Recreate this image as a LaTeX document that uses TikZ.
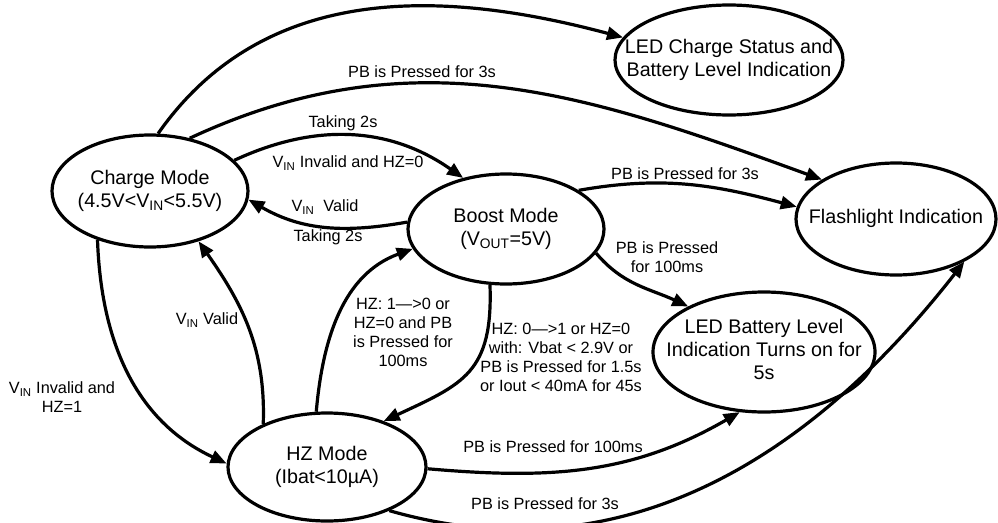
\documentclass[tikz,border=0pt]{standalone}
\usepackage{fontspec}
\setmainfont{Liberation Sans}
\usepackage{tikz}
\usetikzlibrary{arrows.meta}
\usetikzlibrary{shapes,calc}

\newcommand{\mtext}[1]{\makebox[0pt]{\begin{tabular}{@{}c@{}}#1\end{tabular}}}

\begin{document}
\begin{tikzpicture}[x=1pt,y=1pt,line width=3.2pt,
  >={Triangle[length=16pt,width=13pt]},
  modenode/.style={ellipse,draw,inner sep=0pt,font=\fontsize{19.7}{23}\selectfont},
  lbl/.style={align=center,inner sep=0pt,font=\fontsize{16.3}{19}\selectfont}]

\useasboundingbox (0,0) rectangle (998,-522);

\node[modenode,minimum width=196pt,minimum height=112pt] (charge) at (150,-191)
  {\mtext{Charge Mode\\(4.5V<V\textsubscript{IN}<5.5V)}};
\node[modenode,minimum width=196pt,minimum height=110pt] (boost) at (506,-229)
  {\mtext{Boost Mode\\(V\textsubscript{OUT}=5V)}};
\node[modenode,minimum width=198pt,minimum height=108pt] (hz) at (327,-467)
  {\mtext{HZ Mode\\(Ibat<10µA)}};
\node[modenode,minimum width=228pt,minimum height=110pt] (ledcharge) at (729,-60)
  {\mtext{LED Charge Status and\\Battery Level Indication}};
\node[modenode,minimum width=200pt,minimum height=112pt] (flash) at (896,-219)
  {\mtext{Flashlight Indication}};
\node[modenode,minimum width=222pt,minimum height=120pt] (ledbat) at (764,-352)
  {\mtext{LED Battery Level\\Indication Turns on for\\5s}};

\draw[->] (charge.82) to[out=55,in=165] (ledcharge.168);
\draw[->] (charge.53) to[out=25,in=160] (flash.152);
\draw[->] (charge.20) to[out=25,in=145] (boost.130);
\draw[->] (boost.176) to[out=190,in=-30] (charge.-5);
\draw[->] (boost.28) to[out=10,in=165] (flash.173);
\draw[->] (boost.-15) to[out=-50,in=155] (ledbat.149);
\draw[->] (boost.-106) to[out=-88,in=25,looseness=1.3] (hz.39);
\draw[->] (hz.101) to[out=85,in=200] (boost.-168);
\draw[->] (hz.146) to[out=88,in=-55] (charge.-46);
\draw[->] (charge.-137) to[out=-88,in=155] (hz.178);
\draw[->] (hz.-1) to[out=-5,in=210] (ledbat.-112);
\draw[->] (hz.-35) to[out=-16,in=232] (flash.-32);

\node[lbl] (lab1) at (422,-72) {PB is Pressed for 3s};
\node[lbl] (lab2) at (343,-123) {Taking 2s};
\node[lbl] (lab3) at (348,-163) {V\textsubscript{IN} Invalid and HZ=0};
\node[lbl] (lab4) at (325,-207) {V\textsubscript{IN}\ \ Valid};
\node[lbl] (lab5) at (328,-237) {Taking 2s};
\node[lbl] (lab6) at (685,-174) {PB is Pressed for 3s};
\node[lbl] (lab7) at (667,-257) {PB is Pressed\\for 100ms};
\node[lbl] (lab8) at (561,-357) {HZ: 0—>1 or HZ=0\\with: Vbat < 2.9V or\\PB is Pressed for 1.5s\\or Iout < 40mA for 45s};
\node[lbl] (lab9) at (403,-332) {HZ: 1—>0 or\\HZ=0 and PB\\is Pressed for\\100ms};
\node[lbl] (lab10) at (207,-320) {V\textsubscript{IN} Valid};
\node[lbl] (lab11) at (62,-397) {V\textsubscript{IN} Invalid and\\HZ=1};
\node[lbl] (lab12) at (553,-447) {PB is Pressed for 100ms};
\node[lbl] (lab13) at (545,-504) {PB is Pressed for 3s};
\end{tikzpicture}
\end{document}
